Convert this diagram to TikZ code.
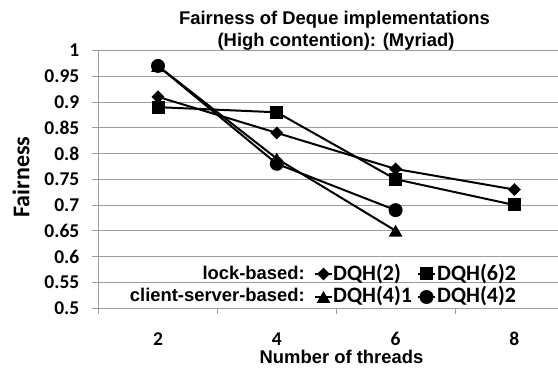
\documentclass[tikz,border=0pt]{standalone}
\usepackage{fontspec}
\setmainfont{Liberation Sans}
\newfontfamily\calib{Carlito}
\usetikzlibrary{shapes.geometric}

\tikzset{
  gridline/.style={draw=black!38, line width=0.9pt},
  axisline/.style={draw=black!38, line width=0.9pt},
  series/.style={draw=black, line width=2pt},
  ticklab/.style={font=\calib\bfseries\fontsize{19.5}{20}\selectfont, inner sep=0pt},
  arialb/.style={font=\bfseries\fontsize{18.4}{20}\selectfont, inner sep=0pt},
  serieslab/.style={font=\calib\bfseries\fontsize{22}{24}\selectfont, inner sep=0pt, anchor=base west},
  mdia/.style={diamond, fill=black, inner sep=0pt, minimum width=13pt, minimum height=13pt},
  msq/.style={rectangle, fill=black, inner sep=0pt, minimum size=13pt},
  mcirc/.style={circle, fill=black, inner sep=0pt, minimum size=14pt},
  mtri/.style={regular polygon, regular polygon sides=3, fill=black, inner sep=0pt, minimum size=16pt, yshift=-2pt},
}

\begin{document}
\begin{tikzpicture}[x=1pt,y=-1pt]
\useasboundingbox (0,0) rectangle (558,379);
\fill[white] (0,0) rectangle (558,379);

% horizontal grid and value labels
\foreach \k/\lab in {0/1,1/0.95,2/0.9,3/0.85,4/0.8,5/0.75,6/0.7,7/0.65,8/0.6,9/0.55,10/0.5}{
  \draw[gridline] (92,{50.5+25.75*\k}) -- (558,{50.5+25.75*\k});
  \node[ticklab, anchor=east] (yl\k) at (79.5,{50.5+25.75*\k}) {\lab};
}
% vertical axis and category ticks
\draw[axisline] (98.6,50.5) -- (98.6,308);
\foreach \j in {0,1,2,3}{
  \draw[axisline] ({98.6+118.8*\j},308) -- ({98.6+118.8*\j},314);
}
% category labels
\foreach \j/\lab in {0/2,1/4,2/6,3/8}{
  \node[ticklab, anchor=base] (xl\j) at ({158+118.8*\j},345.5) {\lab};
}

% titles
\node[arialb, anchor=base] (title1) at (334.5,25) {Fairness of Deque implementations};
\node[arialb, anchor=base] (title2) at (336,47) {(High contention): (Myriad)};
\node[arialb, anchor=base] (xtitle) at (341.5,364) {Number of threads};
\node[font=\calib\bfseries\fontsize{24}{26}\selectfont, inner sep=0pt, rotate=90] (ytitle) at (21,177) {Fairness};

% data points
\coordinate (a1) at (158,96.85);
\coordinate (a2) at (276.8,132.9);
\coordinate (a3) at (395.6,168.95);
\coordinate (a4) at (514.4,189.55);
\coordinate (b1) at (158,107.15);
\coordinate (b2) at (276.8,112.3);
\coordinate (b3) at (395.6,179.25);
\coordinate (b4) at (514.4,205);
\coordinate (c1) at (158,65.95);
\coordinate (c2) at (276.8,158.65);
\coordinate (c3) at (395.6,230.75);
\coordinate (d1) at (158,65.95);
\coordinate (d2) at (276.8,163.8);
\coordinate (d3) at (395.6,210.15);

% series lines
\draw[series] (a1) -- (a2) -- (a3) -- (a4);
\draw[series] (b1) -- (b2) -- (b3) -- (b4);
\draw[series] (c1) -- (c2) -- (c3);
\draw[series] (d1) -- (d2) -- (d3);

% series markers
\foreach \p in {a1,a2,a3,a4}{ \node[mdia] at (\p) {}; }
\foreach \p in {b1,b2,b3,b4}{ \node[msq] at (\p) {}; }
\foreach \p in {c1,c2,c3}{ \node[mtri] at (\p) {}; }
\foreach \p in {d1,d2,d3}{ \node[mcirc] at (\p) {}; }

% legend
\node[arialb, anchor=base east] (lg1) at (305,280) {lock-based:};
\node[arialb, anchor=base east] (lg2) at (305,302) {client-server-based:};
\coordinate (ka) at (315,274); \coordinate (kb) at (332,274);
\coordinate (kc) at (418,274); \coordinate (kd) at (435,274);
\coordinate (ke) at (315,297); \coordinate (kf) at (332,297);
\coordinate (kg) at (418,297); \coordinate (kh) at (435,297);
\draw[series] (ka) -- (kb);
\draw[series] (kc) -- (kd);
\draw[series] (ke) -- (kf);
\draw[series] (kg) -- (kh);
\node[mdia] (ma) at (323.5,274) {};
\node[msq] (mb) at (426.5,274) {};
\node[mtri] (mc) at (323.5,297) {};
\node[mcirc] (md) at (426.5,297) {};
\node[serieslab] (la) at (333,281) {DQH(2)};
\node[serieslab] (lb) at (437,281) {DQH(6)2};
\node[serieslab] (lc) at (333,303) {DQH(4)1};
\node[serieslab] (ld) at (437,303) {DQH(4)2};
\end{tikzpicture}
\end{document}
